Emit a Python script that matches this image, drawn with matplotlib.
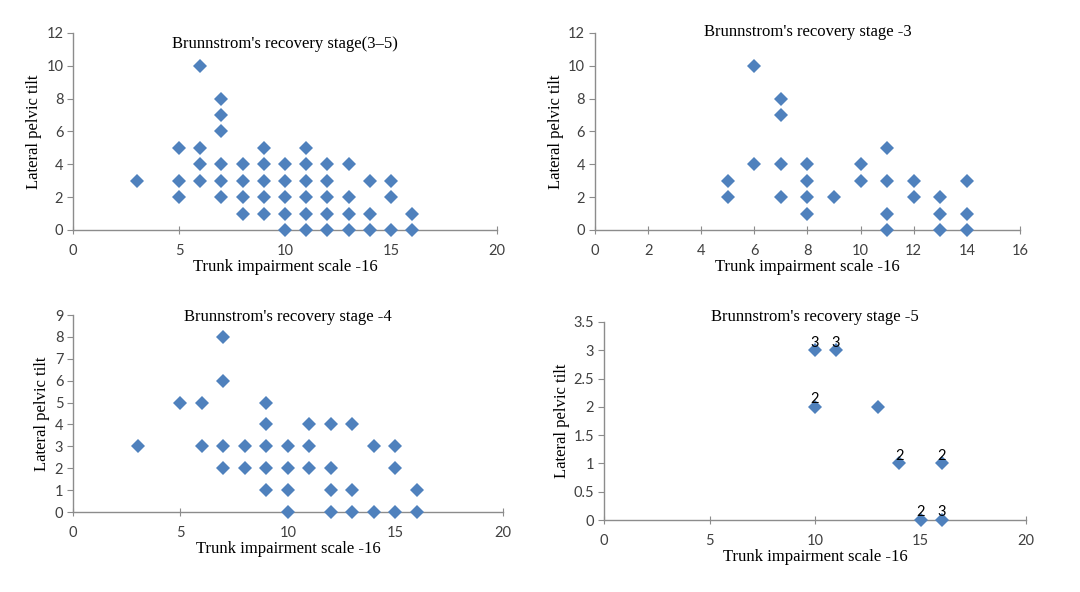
import matplotlib.pyplot as plt
from matplotlib.ticker import FuncFormatter, MultipleLocator

# Brunnstrom's recovery stage (3-5), all patients
combined_x = [3, 5, 5, 5, 6, 6, 6, 6, 7, 7, 7, 7, 7, 7, 8, 8, 8, 8,
              9, 9, 9, 9, 9, 10, 10, 10, 10, 10, 11, 11, 11, 11, 11, 11,
              12, 12, 12, 12, 12, 13, 13, 13, 13, 14, 14, 14, 15, 15, 15, 16, 16]
combined_y = [3, 5, 3, 2, 10, 5, 4, 3, 8, 7, 6, 4, 3, 2, 4, 3, 2, 1,
              5, 4, 3, 2, 1, 4, 3, 2, 1, 0, 5, 4, 3, 2, 1, 0,
              4, 3, 2, 1, 0, 4, 2, 1, 0, 3, 1, 0, 3, 2, 0, 1, 0]

# stage 3
stage3_x = [5, 5, 6, 6, 7, 7, 7, 7, 8, 8, 8, 8, 9, 10, 10,
            11, 11, 11, 11, 12, 12, 13, 13, 13, 14, 14, 14]
stage3_y = [3, 2, 10, 4, 8, 7, 4, 2, 4, 3, 2, 1, 2, 4, 3,
            5, 3, 1, 0, 3, 2, 2, 1, 0, 3, 1, 0]

# stage 4
stage4_x = [3, 5, 6, 6, 7, 7, 7, 7, 8, 8, 9, 9, 9, 9, 9, 10, 10, 10, 10,
            11, 11, 11, 12, 12, 12, 12, 13, 13, 13, 14, 14, 15, 15, 15, 16, 16]
stage4_y = [3, 5, 5, 3, 8, 6, 3, 2, 3, 2, 5, 4, 3, 2, 1, 3, 2, 1, 0,
            4, 3, 2, 4, 2, 1, 0, 4, 1, 0, 3, 0, 3, 2, 0, 1, 0]

# stage 5 (with patient counts written above points)
stage5_x = [10, 11, 10, 13, 14, 16, 15, 16]
stage5_y = [3, 3, 2, 2, 1, 1, 0, 0]
stage5_counts = ["3", "3", "2", "", "2", "2", "2", "3"]

panels = [
    # title, x, y, xmax, xstep, ymax, ystep, rect, title_y
    ("Brunnstrom's recovery stage(3\u20135)", combined_x, combined_y, 20, 5, 12, 2,
     [0.0676, 0.6115, 0.3926, 0.3328], 0.945),
    ("Brunnstrom's recovery stage -3", stage3_x, stage3_y, 16, 2, 12, 2,
     [0.5509, 0.6115, 0.3935, 0.3328], 1.005),
    ("Brunnstrom's recovery stage -4", stage4_x, stage4_y, 20, 5, 9, 1,
     [0.0676, 0.1351, 0.3981, 0.3328], 0.99),
    ("Brunnstrom's recovery stage -5", stage5_x, stage5_y, 20, 5, 3.5, 0.5,
     [0.5593, 0.1216, 0.3907, 0.3345], 1.025),
]

MARKER_COLOR = "#4F81BD"
AXIS_COLOR = "#8C8C8C"
SERIF = "Liberation Serif"
SANS = "Lato"


def general_format(value, _pos):
    # Excel "General" style: 0, 0.5, 1, 1.5 ...
    return f"{value:g}"


figure = plt.figure(figsize=(10.8, 5.92), dpi=100)

for title, xs, ys, xmax, xstep, ymax, ystep, rect, title_y in panels:
    axis = figure.add_axes(rect)
    axis.plot(xs, ys, linestyle="none", marker="D", markersize=7,
              color=MARKER_COLOR, markeredgewidth=0, clip_on=False, zorder=3)
    axis.set_xlim(0, xmax)
    axis.set_ylim(0, ymax)
    axis.xaxis.set_major_locator(MultipleLocator(xstep))
    axis.yaxis.set_major_locator(MultipleLocator(ystep))
    axis.yaxis.set_major_formatter(FuncFormatter(general_format))
    for side in ("top", "right"):
        axis.spines[side].set_visible(False)
    for side in ("left", "bottom"):
        axis.spines[side].set_color(AXIS_COLOR)
        axis.spines[side].set_linewidth(1.0)
    axis.tick_params(axis="y", direction="out", length=4, color=AXIS_COLOR,
                     labelsize=10.5, labelcolor="#404040", pad=3)
    axis.tick_params(axis="x", direction="inout", length=6, color=AXIS_COLOR,
                     labelsize=10.5, labelcolor="#404040", pad=7)
    for label in axis.get_xticklabels() + axis.get_yticklabels():
        label.set_family(SANS)
    axis.text(0.5, title_y, title, transform=axis.transAxes, ha="center",
              va="center", fontsize=12, family=SERIF)
    axis.set_xlabel("Trunk impairment scale -16", fontsize=12, family=SERIF,
                    labelpad=1)
    axis.set_ylabel("Lateral pelvic tilt", fontsize=12, family=SERIF, labelpad=3)

    if xs is stage5_x:
        for x, y, count in zip(xs, ys, stage5_counts):
            if count:
                axis.annotate(count, xy=(x, y), xytext=(0, 0.5),
                              textcoords="offset points", ha="center",
                              va="bottom", fontsize=10.5, family=SANS,
                              annotation_clip=False)

figure.savefig("out.png", dpi=100)
